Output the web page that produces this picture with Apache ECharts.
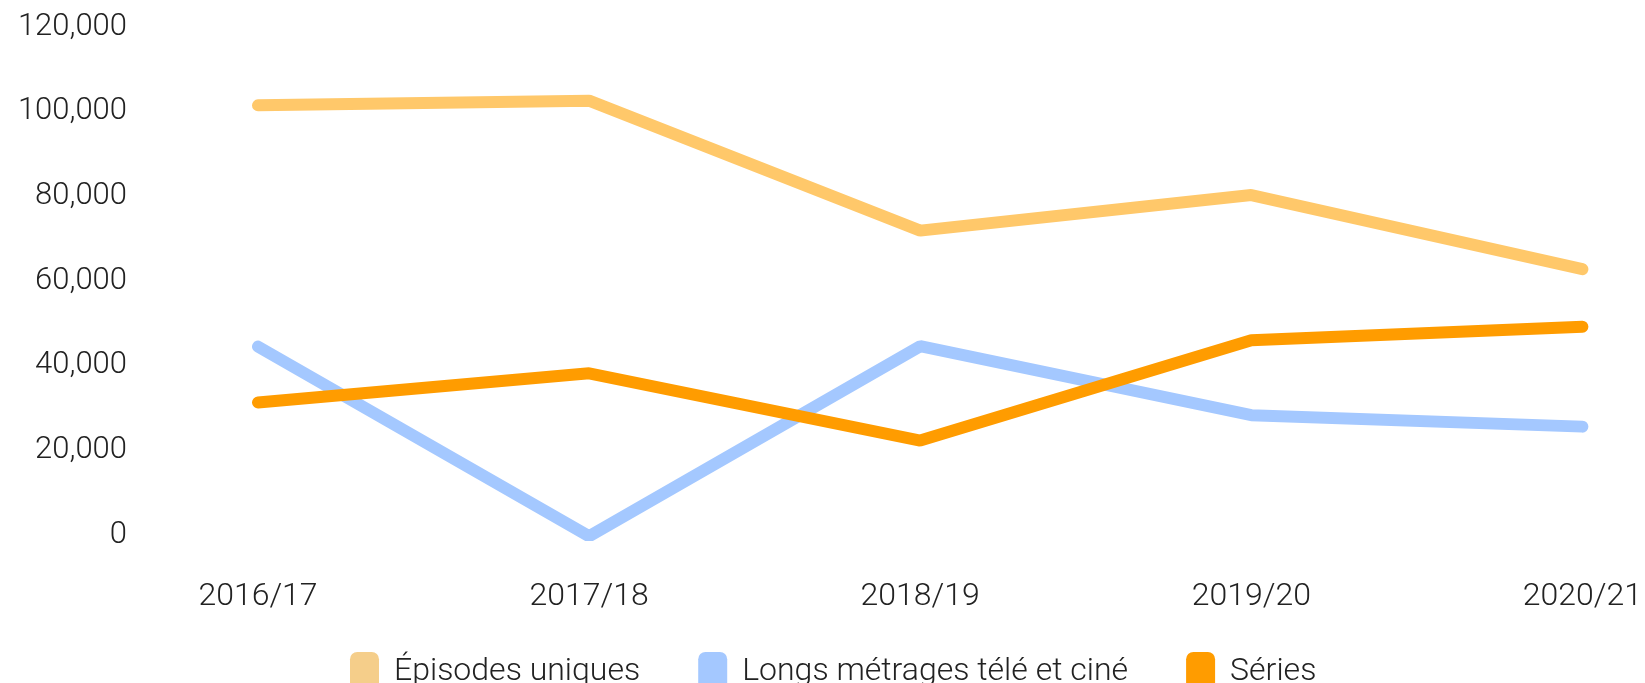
<!DOCTYPE html>
<html>
<head>
<meta charset="utf-8">
<script src="https://cdn.jsdelivr.net/npm/echarts@6/dist/echarts.min.js"></script>
<style>
  html, body { margin: 0; padding: 0; background: #fff; }
  #chart { width: 1645px; height: 683px; }
</style>
</head>
<body>
<div id="chart"></div>
<script>
const seasons = ['2016/17', '2017/18', '2018/19', '2019/20', '2020/21']
const episodesUniques = [101500, 102600, 71900, 80300, 62800]
const longsMetrages = [44500, -300, 44600, 28300, 25600]
const series = [31300, 38200, 22300, 46000, 49200]
const yTicks = [0, 20000, 40000, 60000, 80000, 100000, 120000]

const chart = echarts.init(document.getElementById('chart'))

const fmt = v => String(v).replace(/\B(?=(\d{3})+(?!\d))/g, ',')

const lineSeries = (name, data, color) => ({
  name,
  type: 'line',
  data,
  symbol: 'none',
  lineStyle: { color, width: 12, cap: 'round', join: 'bevel' },
  itemStyle: { color }
})

chart.setOption({
  animation: false,
  textStyle: { fontFamily: 'Roboto', fontWeight: 300, color: '#222' },
  grid: { left: 258, right: 53, top: 27, bottom: 148 },
  legend: {
    left: 345,
    top: 647,
    itemWidth: 29,
    itemHeight: 40,
    itemGap: 58,
    icon: 'roundRect',
    textStyle: { fontSize: 32, fontFamily: 'Roboto', fontWeight: 300, color: '#222', padding: [0, 0, 0, 10] },
    data: [
      { name: 'Épisodes uniques', itemStyle: { color: '#F5CE8A' } },
      { name: 'Longs métrages télé et ciné', itemStyle: { color: '#A4C8FF' } },
      { name: 'Séries', itemStyle: { color: '#FF9C00' } }
    ]
  },
  xAxis: {
    type: 'category',
    data: seasons,
    boundaryGap: false,
    axisLine: { show: false },
    axisTick: { show: false },
    axisLabel: { fontSize: 32, fontFamily: 'Roboto', fontWeight: 300, color: '#222', margin: 46 }
  },
  yAxis: {
    type: 'value',
    min: yTicks[0],
    max: yTicks[yTicks.length - 1],
    interval: yTicks[1] - yTicks[0],
    splitLine: { show: false },
    axisLine: { show: false },
    axisTick: { show: false },
    axisLabel: { fontSize: 31, fontFamily: 'Roboto', fontWeight: 300, color: '#222', margin: 131, formatter: fmt }
  },
  series: [
    lineSeries('Épisodes uniques', episodesUniques, '#FFC86A'),
    lineSeries('Longs métrages télé et ciné', longsMetrages, '#A4C8FF'),
    lineSeries('Séries', series, '#FF9C00')
  ]
})
</script>
</body>
</html>
